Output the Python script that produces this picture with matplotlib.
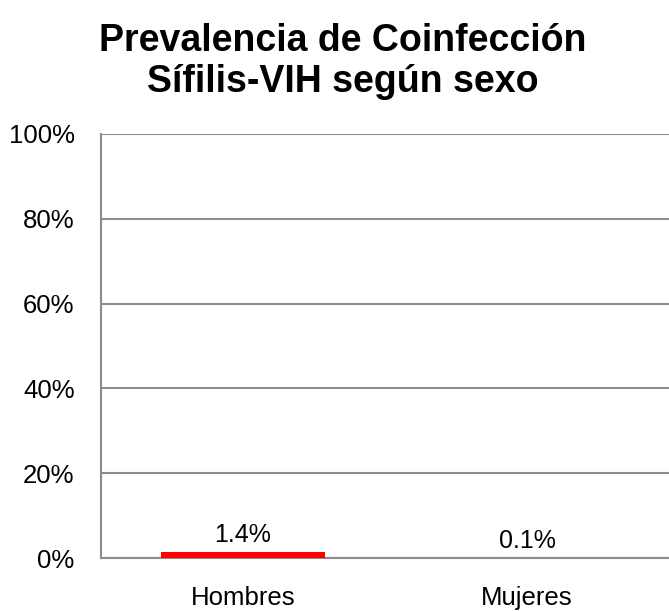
import matplotlib
matplotlib.use('Agg')
import matplotlib.pyplot as plt

categories = ['Hombres', 'Mujeres']
values = [1.4, 0.1]          # percent
bar_colors = ['#ff0000', '#a08c5a']
value_labels = ['1.4%', '0.1%']
yticks = [0, 20, 40, 60, 80, 100]

plt.rcParams['font.family'] = ['Liberation Sans', 'DejaVu Sans']
GRID = '#8c8c8c'

fig = plt.figure(figsize=(6.69, 6.11), dpi=100)
ax = fig.add_axes([0.151, 0.0867, 0.849, 0.694])

x = list(range(len(categories)))
bars = ax.bar(x, values, width=0.575, color=bar_colors, zorder=3)
for b, lab in zip(bars, value_labels):
    ax.annotate(lab, (b.get_x() + b.get_width() / 2, b.get_height()),
                xytext=(0, 3.5), textcoords='offset points',
                ha='center', va='bottom', fontsize=18, color='#000000')

ax.set_xlim(-0.5, len(categories) - 0.5)
ax.set_ylim(0, 100)
ax.set_yticks(yticks)
ax.set_yticklabels(['%d%%' % v for v in yticks])
ax.set_xticks(x)
ax.set_xticklabels(categories)
ax.tick_params(axis='y', length=0, pad=19, labelsize=18.5)
ax.tick_params(axis='x', length=0, pad=20, labelsize=18.5)
ax.yaxis.grid(True, color=GRID, lw=1.5, zorder=0)
ax.set_axisbelow(True)
for s in ('top', 'right'):
    ax.spines[s].set_visible(False)
for s in ('left', 'bottom'):
    ax.spines[s].set_color(GRID)
    ax.spines[s].set_linewidth(1.5)

fig.text(0.512, 0.963, 'Prevalencia de Coinfección\nSífilis-VIH según sexo',
         ha='center', va='top', fontsize=27, fontweight='bold', linespacing=1.2)

plt.savefig('out.png', dpi=100, facecolor='white')
